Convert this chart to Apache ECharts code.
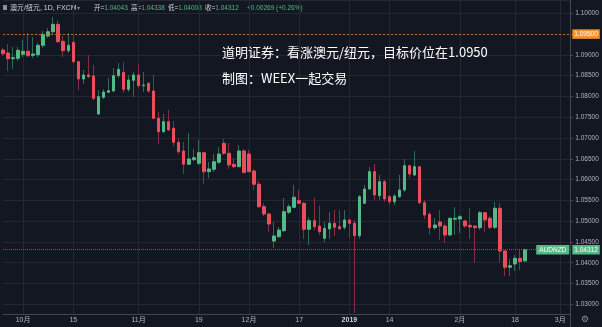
<!DOCTYPE html>
<html><head><meta charset="utf-8">
<script src="https://cdn.jsdelivr.net/npm/echarts@6/dist/echarts.min.js"></script>
<style>html,body{margin:0;padding:0;background:#131722;}#c{width:602px;height:327px;}</style>
</head><body><div id="c"></div>
<script>
const categories = [
'2018-09-25','2018-09-26','2018-09-27','2018-09-28',
'2018-10-01','2018-10-02','2018-10-03','2018-10-04','2018-10-05','2018-10-08','2018-10-09','2018-10-10','2018-10-11','2018-10-12','2018-10-15','2018-10-16','2018-10-17','2018-10-18','2018-10-19','2018-10-22','2018-10-23','2018-10-24','2018-10-25','2018-10-26','2018-10-29','2018-10-30','2018-10-31',
'2018-11-01','2018-11-02','2018-11-05','2018-11-06','2018-11-07','2018-11-08','2018-11-09','2018-11-12','2018-11-13','2018-11-14','2018-11-15','2018-11-16','2018-11-19','2018-11-20','2018-11-21','2018-11-22','2018-11-23','2018-11-26','2018-11-27','2018-11-28','2018-11-29','2018-11-30',
'2018-12-03','2018-12-04','2018-12-05','2018-12-06','2018-12-07','2018-12-10','2018-12-11','2018-12-12','2018-12-13','2018-12-14','2018-12-17','2018-12-18','2018-12-19','2018-12-20','2018-12-21','2018-12-24','2018-12-26','2018-12-27','2018-12-28','2018-12-31',
'2019-01-02','2019-01-03','2019-01-04','2019-01-07','2019-01-08','2019-01-09','2019-01-10','2019-01-11','2019-01-14','2019-01-15','2019-01-16','2019-01-17','2019-01-18','2019-01-21','2019-01-22','2019-01-23','2019-01-24','2019-01-25','2019-01-28','2019-01-29','2019-01-30','2019-01-31',
'2019-02-01','2019-02-04','2019-02-05','2019-02-06','2019-02-07','2019-02-08','2019-02-11','2019-02-12','2019-02-13','2019-02-14','2019-02-15','2019-02-18','2019-02-19','2019-02-20','2019-02-21','2019-02-22','2019-02-25','2019-02-26','2019-02-27','2019-02-28',
'2019-03-01','2019-03-04','2019-03-05'];

const opens = [1.09117,1.09045,1.08908,1.08918,1.09014,1.09086,1.08990,1.09004,1.09230,1.09454,
1.09557,1.09735,1.09326,1.09100,1.09302,1.08836,1.08420,1.08516,1.08492,1.07578,
1.07979,1.08100,1.08131,1.08499,1.08581,1.08172,1.08388,1.08516,1.08258,1.08316,
1.08131,1.07474,1.07152,1.07392,1.07234,1.06897,1.06688,1.06368,1.06478,1.06392,
1.06647,1.06190,1.06247,1.06416,1.06873,1.06632,1.06368,1.06310,1.06688,1.06615,
1.06206,1.05887,1.05348,1.05172,1.04522,1.04626,1.04770,1.05213,1.05333,1.05492,
1.05429,1.04804,1.05011,1.04883,1.04587,1.04811,1.04948,1.04867,1.04852,1.05028,
1.04948,1.04650,1.05429,1.05773,1.06190,1.05612,1.05949,1.05588,1.05468,1.05588,
1.05749,1.06334,1.06110,1.06310,1.05444,1.05165,1.04842,1.04980,1.04883,1.04667,
1.05045,1.05052,1.05004,1.04900,1.04883,1.04842,1.05203,1.05069,1.04852,1.05309,
1.04282,1.03890,1.03969,1.04106,1.04043];
const closes = [1.09028,1.08908,1.08932,1.09110,1.09086,1.08980,1.09021,1.09230,1.09495,1.09557,
1.09735,1.09317,1.09100,1.09230,1.08836,1.08420,1.08516,1.08475,1.07955,1.07994,
1.08107,1.08138,1.08499,1.08653,1.08172,1.08396,1.08516,1.08258,1.08275,1.08131,
1.07474,1.07152,1.07392,1.07193,1.06897,1.06671,1.06368,1.06495,1.06526,1.06647,
1.06190,1.06255,1.06430,1.06615,1.06632,1.06351,1.06310,1.06688,1.06166,1.06190,
1.05887,1.05348,1.05172,1.04931,1.04643,1.04787,1.05227,1.05348,1.05574,1.05429,
1.04804,1.05011,1.04867,1.04746,1.04828,1.04948,1.04852,1.04818,1.05028,1.04948,
1.04650,1.05588,1.05773,1.06190,1.05629,1.05949,1.05533,1.05468,1.05605,1.05749,
1.06334,1.06134,1.06310,1.05444,1.05148,1.04842,1.04907,1.04883,1.04667,1.05069,
1.05069,1.05107,1.04883,1.04859,1.04842,1.05203,1.05028,1.04852,1.05309,1.04282,
1.03890,1.03928,1.04106,1.04025,1.04312];
const lows = [1.08973,1.08612,1.08660,1.08853,1.08949,1.08949,1.08925,1.08949,1.09165,1.09406,
1.09502,1.09286,1.08949,1.09045,1.08804,1.08155,1.08299,1.08444,1.07914,1.07554,
1.07938,1.08083,1.08107,1.08444,1.08083,1.08107,1.07987,1.08203,1.08107,1.08083,
1.07457,1.06856,1.07121,1.07169,1.06808,1.06615,1.06134,1.06351,1.06447,1.06351,
1.05894,1.06038,1.06182,1.06375,1.06591,1.06255,1.06279,1.06303,1.06158,1.06182,
1.05749,1.05316,1.05124,1.04739,1.04354,1.04595,1.04739,1.05172,1.05316,1.05413,
1.04571,1.04426,1.04787,1.04667,1.04498,1.04571,1.04643,1.04787,1.04787,1.04595,
1.02790,1.04571,1.05413,1.05749,1.05509,1.05509,1.05461,1.05389,1.05389,1.05557,
1.05701,1.06038,1.06086,1.05413,1.05052,1.04667,1.04787,1.04547,1.04474,1.04643,
1.04667,1.04715,1.04835,1.04571,1.03993,1.04787,1.04739,1.04811,1.04811,1.04017,
1.03681,1.03681,1.03801,1.03825,1.04008];
const highs = [1.09165,1.09262,1.09189,1.09189,1.09358,1.09526,1.09430,1.09286,1.09574,1.09646,
1.09911,1.09839,1.09454,1.09526,1.09478,1.08853,1.08636,1.08997,1.08756,1.08155,
1.08179,1.08444,1.08684,1.08804,1.08829,1.08516,1.08588,1.08780,1.08588,1.08347,
1.08516,1.07626,1.07578,1.07674,1.07409,1.07000,1.06904,1.07121,1.06736,1.06952,
1.06664,1.06423,1.06615,1.06784,1.06976,1.06880,1.06519,1.06832,1.06736,1.06712,
1.06255,1.05966,1.05437,1.05196,1.04980,1.04859,1.05557,1.05413,1.05870,1.05749,
1.05461,1.05100,1.05557,1.05365,1.04980,1.05220,1.05268,1.05268,1.05268,1.05052,
1.05028,1.05629,1.05870,1.06303,1.06375,1.06110,1.05990,1.05629,1.05653,1.06110,
1.06495,1.06351,1.06688,1.06327,1.05509,1.05220,1.05076,1.05268,1.04956,1.05076,
1.05340,1.05148,1.05028,1.05316,1.04907,1.05244,1.05220,1.05124,1.05461,1.05437,
1.04306,1.04090,1.04186,1.04306,1.04338];

const tickLabels = {'2018-10-01':'10月','2018-10-15':'15','2018-11-01':'11月','2018-11-19':'19',
'2018-12-03':'12月','2018-12-17':'17','2019-01-02':'2019','2019-01-14':'14','2019-02-01':'2月',
'2019-02-18':'18','2019-03-01':'3月'};
const yearTicks = ['2019'];

const targetPrice = 1.095;
const lastPrice = 1.04312;
const symbolName = 'AUDNZD';
const titleText = '澳元/纽元, 1D, FXCM';
const ohlcHeader = [['开=','1.04043'],['高=','1.04338'],['低=','1.04008'],['收=','1.04312']];
const changeText = '+0.00269 (+0.26%)';
const noteLines = ['道明证券：看涨澳元/纽元，目标价位在1.0950','制图：WEEX一起交易'];

const UP = '#53b987', DOWN = '#eb4d5c';
const FONT = 'Liberation Sans, Noto Sans CJK SC, sans-serif';

const wickData = opens.map((o,i)=>[o, closes[i], lows[i], highs[i]]);
const bodyData = opens.map((o,i)=>[o, closes[i], Math.min(o,closes[i]), Math.max(o,closes[i])]);
const showTick = (i, v) => tickLabels[v] !== undefined;

const chart = echarts.init(document.getElementById('c'), null, {renderer:'canvas'});
const hdrX = [94, 131, 168, 205];
const graphics = [
  {type:'rect', shape:{x:3,y:5,width:4,height:5}, style:{fill:'#8a8e99'}},
  {type:'text', x:10, y:8, style:{text:titleText, fill:'#d1d4dc', fontSize:7, fontFamily:FONT, verticalAlign:'middle'}},
  {type:'text', x:77, y:8, style:{text:'▾', fill:'#8a8e99', fontSize:6, fontFamily:'DejaVu Sans', verticalAlign:'middle'}},
  {type:'text', x:247, y:8, style:{text:changeText, fill:UP, fontSize:6.5, fontFamily:FONT, verticalAlign:'middle'}},
  {type:'text', x:222, y:52, z:10, style:{text:noteLines[0], fill:'#ffffff', fontSize:13, fontFamily:'Noto Sans CJK SC', verticalAlign:'middle'}},
  {type:'text', x:222, y:78, z:10, style:{text:noteLines[1], fill:'#ffffff', fontSize:13, fontFamily:'Noto Sans CJK SC', verticalAlign:'middle'}},
  {type:'text', x:581, y:320, style:{text:'⚙', fill:'#8a8e99', fontSize:9, fontFamily:'DejaVu Sans', verticalAlign:'middle'}},
  {type:'line', shape:{x1:570.5,y1:314,x2:570.5,y2:327}, style:{stroke:'#434651', lineWidth:1}}
];
ohlcHeader.forEach((p, k) => {
  graphics.push({type:'text', x:hdrX[k], y:8, style:{
    text:'{a|'+p[0]+'}{b|'+p[1]+'}', verticalAlign:'middle',
    rich:{a:{fill:'#d1d4dc', fontSize:6.5, fontFamily:FONT}, b:{fill:UP, fontSize:6.5, fontFamily:FONT}}}});
});

const boxLabel = (txt, bg, pos, pad) => ({show:true, position:pos, distance:pos==='end'?2:1, formatter:()=>txt,
  backgroundColor:bg, color:'#fff', fontSize:6.5, fontFamily:FONT, padding:pad});

chart.setOption({
  backgroundColor:'#131722',
  animation:false,
  grid:{left:3, right:31.7, top:0, bottom:13, containLabel:false},
  xAxis:{type:'category', data:categories, boundaryGap:false,
    axisLine:{lineStyle:{color:'#434651'}},
    axisTick:{show:false},
    axisLabel:{interval:showTick, color:'#b2b5be', fontSize:7, fontFamily:FONT, margin:3,
      formatter:v => yearTicks.includes(tickLabels[v]) ? '{y|'+tickLabels[v]+'}' : tickLabels[v],
      rich:{y:{color:'#d1d4dc', fontWeight:'bold', fontSize:7, fontFamily:FONT}}},
    splitLine:{show:true, interval:showTick, lineStyle:{color:'#242832', width:1}}
  },
  yAxis:{type:'value', position:'right', min:1.02766, max:1.1032, minInterval:0.005, maxInterval:0.005, splitNumber:15,
    axisLine:{show:true, lineStyle:{color:'#434651'}},
    axisTick:{show:true, length:3, lineStyle:{color:'#434651'}},
    axisLabel:{color:'#b2b5be', fontSize:6.5, fontFamily:FONT, margin:5, showMinLabel:false, showMaxLabel:false,
      formatter:v => v.toFixed(5)},
    splitLine:{show:true, lineStyle:{color:'#242832', width:1}}
  },
  graphic:graphics,
  series:[
    {type:'candlestick', data:wickData, barWidth:1, silent:true,
      itemStyle:{color:'#2f6a52', color0:'#843040', borderColor:'#2f6a52', borderColor0:'#843040', borderWidth:1},
      markLine:{symbol:'none', silent:true, animation:false, precision:5,
        lineStyle:{color:'#2f7d5a', type:'dotted', width:1},
        data:[
          {yAxis:lastPrice, label:boxLabel(lastPrice.toFixed(5), UP, 'end', [2,2,1,2])},
          {yAxis:lastPrice, label:boxLabel(symbolName, UP, 'insideEnd', [2,3,1,3])}
        ]}
    },
    {type:'candlestick', data:bodyData, barWidth:3, silent:true,
      itemStyle:{color:UP, color0:DOWN, borderColor:UP, borderColor0:DOWN, borderWidth:1},
      markLine:{symbol:'none', silent:true, animation:false, precision:5,
        lineStyle:{color:'#b86e2a', type:[2,2], width:1},
        data:[
          {yAxis:targetPrice, label:boxLabel(targetPrice.toFixed(5), '#f0922e', 'end', [2,2,1,2])}
        ]}
    }
  ]
});
</script>
</body></html>
